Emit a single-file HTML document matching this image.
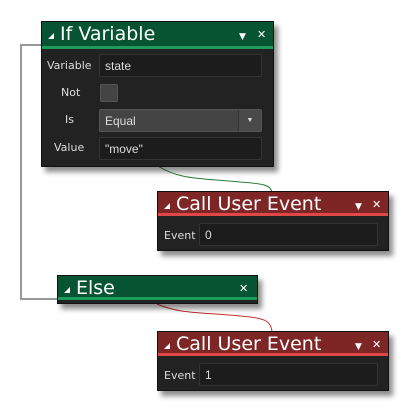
<!DOCTYPE html><html><head><style>
body{margin:0;width:409px;height:411px;background:#fff;position:relative;overflow:hidden;font-family:"DejaVu Sans","Liberation Sans",sans-serif}
.p{position:absolute;background:#222;border:1px solid #111;box-shadow:4px 5px 5px rgba(0,0,0,.45)}
.h{position:absolute;left:0;right:0;top:0;height:24px;color:#fff;font-size:19px;line-height:24px;padding-left:18px;box-sizing:border-box}
.h:before{content:"";position:absolute;left:6px;top:11px;border-left:6px solid transparent;border-bottom:6px solid #fff}
.g{background:#065432;border-bottom:3px solid #1e9a5a}
.r{background:#7e2626;border-bottom:3px solid #e04848}
.ic{position:absolute;top:1px;font-size:9px;color:#fff}
.l{position:absolute;color:#ddd;font-size:11px}
.f{position:absolute;background:#1c1c1c;border:1px solid #333;border-radius:2px;color:#ddd;font-size:12px;font-family:"Liberation Sans",sans-serif;line-height:22px;padding-left:5px;box-sizing:border-box}
</style></head><body>
<svg width="409" height="411" style="position:absolute;left:0;top:0">
<path d="M42 45 H21 V299 H58" fill="none" stroke="#999" stroke-width="2"/>
<path d="M158 166 C180 180 200 178 240 182 C268 184 270 186 272 192" fill="none" stroke="#2a7a3a" stroke-width="1"/>
<path d="M157 304 C180 314 200 312 240 316 C268 318 270 322 272 331" fill="none" stroke="#c43030" stroke-width="1"/>
</svg>
<div class="p" style="left:41px;top:21px;width:231px;height:144px">
<div class="h g" style="height:27px">If Variable<span class="ic" style="left:197px;top:3px">▼</span><span class="ic" style="left:215px;font-size:11px;font-weight:bold">✕</span></div>
<div class="l" style="left:5px;top:37px">Variable</div><div class="f" style="left:57px;top:32px;width:163px;height:23px">state</div>
<div class="l" style="left:19px;top:64px">Not</div><div style="position:absolute;left:58px;top:62px;width:16px;height:16px;background:#444;border:1px solid #555;border-radius:2px"></div>
<div class="l" style="left:23px;top:91px">Is</div><div class="f" style="left:57px;top:87px;width:163px;height:23px;background:#444;border-color:#555">Equal<div style="position:absolute;right:0;top:0;width:22px;height:21px;border-left:1px solid #333;background:#4a4a4a;color:#ddd;font-size:7px;text-align:center">▼</div></div>
<div class="l" style="left:12px;top:119px">Value</div><div class="f" style="left:57px;top:115px;width:163px;height:23px">"move"</div>
</div>
<div class="p" style="left:157px;top:191px;width:230px;height:58px">
<div class="h r">Call User Event<span class="ic" style="left:197px;top:3px">▼</span><span class="ic" style="left:214px;font-size:11px;font-weight:bold">✕</span></div>
<div class="l" style="left:6px;top:37px">Event</div><div class="f" style="left:41px;top:31px;width:179px;height:23px">0</div>
</div>
<div class="p" style="left:57px;top:275px;width:199px;height:27px">
<div class="h g">Else<span class="ic" style="left:181px;font-size:11px;font-weight:bold">✕</span></div>
</div>
<div class="p" style="left:157px;top:331px;width:230px;height:58px">
<div class="h r">Call User Event<span class="ic" style="left:197px;top:3px">▼</span><span class="ic" style="left:214px;font-size:11px;font-weight:bold">✕</span></div>
<div class="l" style="left:6px;top:37px">Event</div><div class="f" style="left:41px;top:31px;width:179px;height:23px">1</div>
</div>
</body></html>
